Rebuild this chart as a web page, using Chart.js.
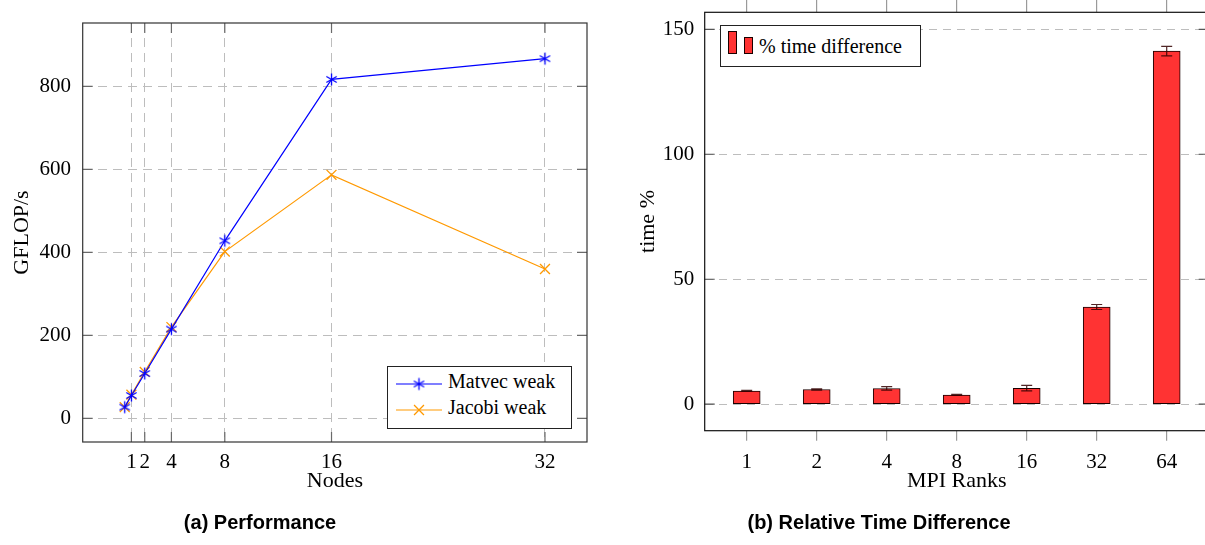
<!DOCTYPE html>
<html>
<head>
<meta charset="utf-8">
<script src="https://cdn.jsdelivr.net/npm/chart.js@4.4.0/dist/chart.umd.min.js"></script>
<style>
html, body { margin: 0; padding: 0; background: #fff; overflow: hidden; width: 1205px; height: 545px; }
canvas { display: block; }
#wrapA { position: absolute; left: 0; top: 0; width: 600px; height: 545px; }
#wrapB { position: absolute; left: 600px; top: 0; width: 620px; height: 545px; }
.caption { position: absolute; top: 512px; font: bold 20px "Liberation Sans", Arial, sans-serif; line-height: 20px; white-space: nowrap; transform: translateX(-50%); color: #000; }
.legend { position: absolute; box-sizing: border-box; background: #fff; border: 1px solid #222; font-family: "Liberation Serif", "Times New Roman", serif; font-size: 20px; color: #000; }
.legend > * { position: absolute; }
.legend span { line-height: 26px; white-space: nowrap; }
</style>
</head>
<body>
<div id="wrapA"><canvas id="perf" width="600" height="545"></canvas><div id="legA" class="legend" style="left:387px;top:366px;width:185px;height:63px;"></div></div>
<div id="wrapB"><canvas id="diff" width="620" height="545"></canvas><div id="legB" class="legend" style="left:120px;top:25px;width:201px;height:42px;"></div></div>
<div class="caption" style="left:260px">(a) Performance</div>
<div class="caption" style="left:879px">(b) Relative Time Difference</div>
<script>
// ---------- data ----------
const nodes = [0.5, 1, 2, 4, 8, 16, 32];
const matvecWeak = [27, 55, 108, 215, 428, 817, 867];
const jacobiWeak = [27, 57, 112, 220, 402, 587, 360];
const nodeTicks = [1, 2, 4, 8, 16, 32];
const gflopTicks = [0, 200, 400, 600, 800];

const mpiRanks = ['1', '2', '4', '8', '16', '32', '64'];
const timeDiff = [5.3, 5.9, 6.3, 3.7, 6.4, 38.9, 141.3];
const timeDiffErr = [0.2, 0.25, 0.7, 0.2, 1.1, 1.0, 1.9];
const timeTicks = [0, 50, 100, 150];

// ---------- styles ----------
const BLUE = '#0000ff', ORANGE = '#ff9900', RED = '#ff3333';
const serif = '"Liberation Serif", "Times New Roman", serif';
const tickFont = { family: serif, size: 21 };
const titleFont = { family: serif, size: 22 };
const GRID = '#bdbdbd';
const DASH = [9, 6];

function fixSize(prop, v) {
  return s => { s[prop] = v; s.paddingLeft = 0; s.paddingRight = 0; s.paddingTop = 0; s.paddingBottom = 0; };
}
function useTicks(arr) {
  return s => { s.ticks = arr.map(v => ({ value: v })); };
}

function makeAsterisk(color, r, lw) {
  const s = Math.ceil(2 * r + lw + 2) | 1;
  const c = document.createElement('canvas');
  c.width = s; c.height = s;
  const g = c.getContext('2d');
  g.strokeStyle = color; g.lineWidth = lw;
  const m = s / 2;
  [90, 30, 150].forEach(a => {
    const rad = a * Math.PI / 180, dx = Math.cos(rad) * r, dy = Math.sin(rad) * r;
    g.beginPath(); g.moveTo(m - dx, m - dy); g.lineTo(m + dx, m + dy); g.stroke();
  });
  return c;
}
const asterisk = makeAsterisk(BLUE, 6, 1.3);

// frame + inward ticks
function framePlugin(cfg) {
  return {
    id: 'frame',
    afterDraw(chart) {
      const { left, top, right, bottom } = chart.chartArea;
      const ctx = chart.ctx;
      ctx.save();
      ctx.strokeStyle = cfg.tickColor; ctx.lineWidth = cfg.tickWidth;
      cfg.inward.forEach(id => {
        const s = chart.scales[id];
        s.ticks.forEach(t => {
          const p = s.getPixelForValue(t.value);
          ctx.beginPath();
          if (s.isHorizontal()) {
            ctx.moveTo(p, bottom); ctx.lineTo(p, bottom - cfg.len);
            ctx.moveTo(p, top); ctx.lineTo(p, top + cfg.len);
          } else {
            ctx.moveTo(left, p); ctx.lineTo(left + cfg.len, p);
            ctx.moveTo(right, p); ctx.lineTo(right - cfg.len, p);
          }
          ctx.stroke();
        });
      });
      ctx.strokeStyle = cfg.color; ctx.lineWidth = cfg.width;
      ctx.strokeRect(left, top, right - left, bottom - top);
      ctx.restore();
    }
  };
}

function legendPlugin(containerId, build) {
  return {
    id: 'htmlLegend',
    afterUpdate(chart) {
      const box = document.getElementById(containerId);
      box.innerHTML = '';
      const items = chart.options.plugins.legend.labels.generateLabels(chart);
      items.forEach((item, i) => build(box, item, chart.data.datasets[item.datasetIndex], i));
    }
  };
}

function lineIcon(ds) {
  const c = document.createElement('canvas');
  c.width = 46; c.height = 16;
  const g = c.getContext('2d');
  g.strokeStyle = ds.borderColor; g.lineWidth = 1.2;
  g.beginPath(); g.moveTo(0, 8); g.lineTo(46, 8); g.stroke();
  if (ds.pointStyle instanceof HTMLCanvasElement) {
    g.drawImage(ds.pointStyle, 23 - ds.pointStyle.width / 2, 8 - ds.pointStyle.height / 2);
  } else {
    const r = ds.pointRadius * Math.SQRT1_2;
    g.lineWidth = ds.pointBorderWidth;
    g.beginPath();
    g.moveTo(23 - r, 8 - r); g.lineTo(23 + r, 8 + r);
    g.moveTo(23 - r, 8 + r); g.lineTo(23 + r, 8 - r);
    g.stroke();
  }
  return c;
}

// ---------- chart (a) ----------
const rowIconY = [9.3, 35];
const rowTextY = [1.4, 27.1];
new Chart(document.getElementById('perf'), {
  type: 'line',
  data: {
    datasets: [
      {
        label: 'Matvec weak',
        data: nodes.map((x, i) => ({ x: x, y: matvecWeak[i] })),
        borderColor: BLUE, backgroundColor: BLUE, borderWidth: 1.2,
        pointStyle: asterisk, pointRadius: 6, pointBorderColor: BLUE, pointBorderWidth: 1.3,
        tension: 0, fill: false
      },
      {
        label: 'Jacobi weak',
        data: nodes.map((x, i) => ({ x: x, y: jacobiWeak[i] })),
        borderColor: ORANGE, backgroundColor: ORANGE, borderWidth: 1.2,
        pointStyle: 'crossRot', pointRadius: 7, pointBorderColor: ORANGE, pointBorderWidth: 1.3,
        tension: 0, fill: false
      }
    ]
  },
  options: {
    responsive: false, animation: false, devicePixelRatio: 1,
    layout: { padding: { left: 0, top: 23, right: 13, bottom: 51 } },
    plugins: { legend: { display: false }, tooltip: { enabled: false } },
    scales: {
      x: {
        type: 'linear', min: -2.65, max: 35.15,
        afterBuildTicks: useTicks(nodeTicks),
        afterFit: fixSize('height', 52),
        grid: { color: GRID, lineWidth: 1, drawTicks: false },
        border: { display: false, dash: DASH },
        ticks: { font: tickFont, color: '#000', padding: 8, autoSkip: false, maxRotation: 0, minRotation: 0 },
        title: { display: true, text: 'Nodes', font: titleFont, color: '#000', padding: 0 }
      },
      y: {
        type: 'linear', min: -57, max: 953,
        afterBuildTicks: useTicks(gflopTicks),
        afterFit: fixSize('width', 82.7),
        grid: { color: GRID, lineWidth: 1, drawTicks: false },
        border: { display: false, dash: DASH },
        ticks: { font: tickFont, color: '#000', padding: 11.7 },
        title: { display: true, text: 'GFLOP/s', font: titleFont, color: '#000', padding: { top: 8.8, bottom: 0 } }
      }
    }
  },
  plugins: [
    framePlugin({ inward: ['x', 'y'], len: 10, tickColor: '#6a6a6a', tickWidth: 1.2, color: '#333', width: 1.2 }),
    legendPlugin('legA', (box, item, ds, i) => {
      const icon = lineIcon(ds);
      icon.style.left = '8px'; icon.style.top = (rowIconY[i]) + 'px';
      const t = document.createElement('span');
      t.textContent = item.text;
      t.style.left = '60px'; t.style.top = rowTextY[i] + 'px';
      box.appendChild(icon); box.appendChild(t);
    })
  ]
});

// ---------- chart (b) ----------
const rankIdx = mpiRanks.map((_, i) => i);
new Chart(document.getElementById('diff'), {
  type: 'bar',
  data: {
    datasets: [{
      label: '% time difference',
      data: timeDiff.map((v, i) => ({ x: rankIdx[i], y: v })),
      backgroundColor: RED, borderColor: '#1a0000', borderWidth: 1, borderSkipped: false,
      barThickness: 27
    }]
  },
  options: {
    responsive: false, animation: false, devicePixelRatio: 1,
    layout: { padding: { left: 0, top: 0, right: 11.3, bottom: 50.7 } },
    plugins: { legend: { display: false }, tooltip: { enabled: false } },
    scales: {
      x: {
        type: 'linear', position: 'bottom', min: -0.6, max: 6.6, offset: false,
        afterBuildTicks: useTicks(rankIdx),
        afterFit: fixSize('height', 63.6),
        grid: { offset: false, drawOnChartArea: false, drawTicks: true, tickLength: 10, color: '#9a9a9a', lineWidth: 1.2 },
        border: { display: false },
        ticks: { font: tickFont, color: '#000', padding: 9, autoSkip: false, maxRotation: 0, minRotation: 0,
                 callback: (v, i) => mpiRanks[i] },
        title: { display: true, text: 'MPI Ranks', font: titleFont, color: '#000', padding: 0 }
      },
      x2: {
        type: 'linear', position: 'top', min: -0.6, max: 6.6, offset: false,
        afterBuildTicks: useTicks(rankIdx),
        afterFit: fixSize('height', 12.3),
        grid: { offset: false, drawOnChartArea: false, drawTicks: true, tickLength: 12.3, color: '#9a9a9a', lineWidth: 1.2 },
        border: { display: false },
        ticks: { display: false }
      },
      y: {
        type: 'linear', min: -10.6, max: 156.8, beginAtZero: false,
        afterBuildTicks: useTicks(timeTicks),
        afterFit: fixSize('width', 104.7),
        grid: { color: GRID, lineWidth: 1, drawTicks: false },
        border: { display: false, dash: [8, 6] },
        ticks: { font: tickFont, color: '#000', padding: 10.5 },
        title: { display: true, text: 'time %', font: titleFont, color: '#000', padding: { top: 34.8, bottom: 0 } }
      }
    }
  },
  plugins: [
    {
      id: 'errorBars',
      afterDatasetsDraw(chart) {
        const meta = chart.getDatasetMeta(0);
        const ys = chart.scales.y;
        const ctx = chart.ctx;
        ctx.save();
        ctx.strokeStyle = 'rgba(50,0,0,0.85)';
        ctx.lineWidth = 1.2;
        meta.data.forEach((bar, i) => {
          const v = timeDiff[i], e = timeDiffErr[i];
          const y1 = ys.getPixelForValue(v + e), y2 = ys.getPixelForValue(v - e);
          const x = bar.x, w = 5.5;
          ctx.beginPath();
          ctx.moveTo(x, y1); ctx.lineTo(x, y2);
          ctx.moveTo(x - w, y1); ctx.lineTo(x + w, y1);
          ctx.moveTo(x - w, y2); ctx.lineTo(x + w, y2);
          ctx.stroke();
        });
        ctx.restore();
      }
    },
    framePlugin({ inward: ['y'], len: 10, tickColor: '#555', tickWidth: 1.2, color: '#111', width: 1.2 }),
    legendPlugin('legB', (box, item, ds) => {
      const b1 = document.createElement('div');
      Object.assign(b1.style, { left: '7.3px', top: '5px', width: '8.4px', height: '23.3px', boxSizing: 'border-box', background: ds.backgroundColor, border: '1px solid #1a0000' });
      const b2 = document.createElement('div');
      Object.assign(b2.style, { left: '23px', top: '10.7px', width: '8.7px', height: '17.6px', boxSizing: 'border-box', background: ds.backgroundColor, border: '1px solid #1a0000' });
      const t = document.createElement('span');
      t.textContent = item.text;
      t.style.left = '38px'; t.style.top = '6.6px';
      box.appendChild(b1); box.appendChild(b2); box.appendChild(t);
    })
  ]
});
</script>
</body>
</html>
